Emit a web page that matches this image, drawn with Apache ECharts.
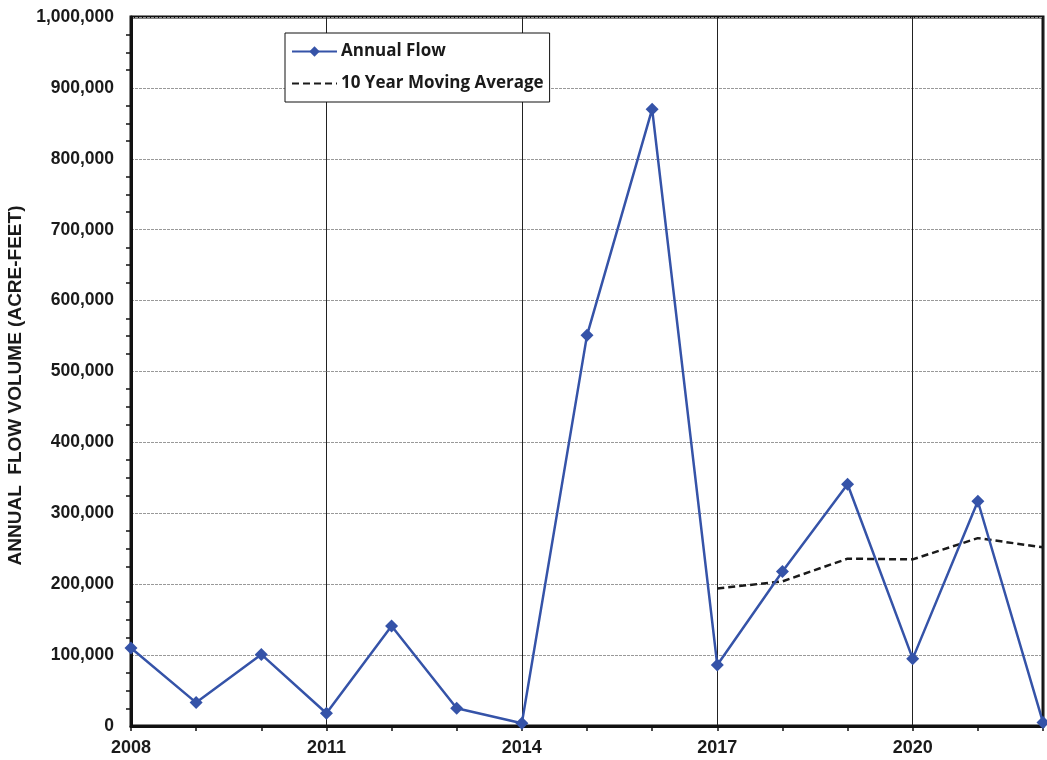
<!DOCTYPE html>
<html>
<head>
<meta charset="utf-8">
<script src="https://cdn.jsdelivr.net/npm/echarts@6/dist/echarts.min.js"></script>
<style>
  html, body { margin: 0; padding: 0; background: #fff; }
  #chart { width: 1047px; height: 760px; }
</style>
</head>
<body>
<div id="chart"></div>
<script>
// Annual flow volume by water year (acre-feet)
const years = [2008, 2009, 2010, 2011, 2012, 2013, 2014, 2015, 2016, 2017, 2018, 2019, 2020, 2021, 2022];
const annualFlow = [110000, 33000, 101000, 18000, 141000, 25000, 4000, 551000, 870000, 86000, 218000, 341000, 95000, 317000, 5000];

// 10-year moving average, available from 2017 onward
const avgYears = [2017, 2018, 2019, 2020, 2021, 2022];
const movingAverage = [194000, 204000, 236000, 235000, 265000, 252000];

const seriesNames = ['Annual Flow', '10 Year Moving Average'];
const yAxisTitle = 'ANNUAL  FLOW VOLUME (ACRE-FEET)';
const xLabelYears = [2008, 2011, 2014, 2017, 2020];

const chart = echarts.init(document.getElementById('chart'), null, { renderer: 'canvas' });

const tickFont = { fontFamily: 'Liberation Sans, Arial, sans-serif', fontWeight: 'bold', color: '#1a1a1a' };

chart.setOption({
  animation: false,
  backgroundColor: '#ffffff',
  grid: {
    left: 131, right: 4, top: 17, bottom: 34,
    outerBoundsMode: 'none',
    containLabel: false,
    show: true, borderColor: '#111', borderWidth: 3, backgroundColor: 'transparent'
  },
  legend: {
    orient: 'vertical',
    left: 285,
    top: 33,
    padding: [10, 6, 10, 6],
    itemGap: 15,
    itemWidth: 45,
    itemHeight: 13,
    borderColor: '#111',
    borderWidth: 1,
    backgroundColor: '#fff',
    textStyle: { fontFamily: 'Open Sans, sans-serif', fontWeight: 'bold', fontSize: 17, color: '#1a1a1a', padding: [0, 0, 0, -1] },
    data: [
      { name: seriesNames[0] },
      { name: seriesNames[1], itemStyle: { opacity: 0 } }
    ]
  },
  xAxis: {
    type: 'value',
    min: 2008,
    max: 2022,
    interval: 3,
    axisLine: { show: true, onZero: false, lineStyle: { color: '#111', width: 3 } },
    axisTick: { show: true, inside: false, length: 5, lineStyle: { color: '#111', width: 1.5 } },
    minorTick: { show: true, splitNumber: 3, length: 5, lineStyle: { color: '#111', width: 1.5 } },
    axisLabel: Object.assign({
      fontSize: 18, margin: 13,
      formatter: v => (xLabelYears.indexOf(v) >= 0 ? String(v) : '')
    }, tickFont),
    splitLine: { show: true, lineStyle: { color: '#222', width: 1, type: 'solid' } }
  },
  yAxis: {
    type: 'value',
    min: 0,
    max: 1000000,
    interval: 100000,
    name: yAxisTitle,
    nameLocation: 'middle',
    nameGap: 104,
    nameTextStyle: { fontFamily: 'Liberation Sans, Arial, sans-serif', fontWeight: 'bold', fontSize: 19, color: '#1a1a1a', padding: [0, 28, 0, 0] },
    axisLine: { show: true, lineStyle: { color: '#111', width: 3 } },
    axisTick: { show: false },
    minorTick: { show: true, splitNumber: 4, length: 5, lineStyle: { color: '#111', width: 1.5 } },
    axisLabel: Object.assign({ fontSize: 17.5, margin: 17, formatter: v => v.toLocaleString('en-US') }, tickFont),
    splitLine: { show: true, lineStyle: { color: '#999', width: 1, type: [3, 1] } }
  },
  series: [
    {
      name: seriesNames[0],
      type: 'line',
      data: years.map((y, i) => [y, annualFlow[i]]),
      symbol: 'diamond',
      symbolSize: 13,
      lineStyle: { color: '#3553a8', width: 2.5 },
      itemStyle: { color: '#3553a8' },
      z: 3
    },
    {
      name: seriesNames[1],
      type: 'line',
      data: avgYears.map((y, i) => [y, movingAverage[i]]),
      symbol: 'none',
      showSymbol: false,
      lineStyle: { color: '#1a1a1a', width: 2.5, type: [7, 4] },
      itemStyle: { color: '#1a1a1a' },
      z: 2
    }
  ]
});
</script>
</body>
</html>
